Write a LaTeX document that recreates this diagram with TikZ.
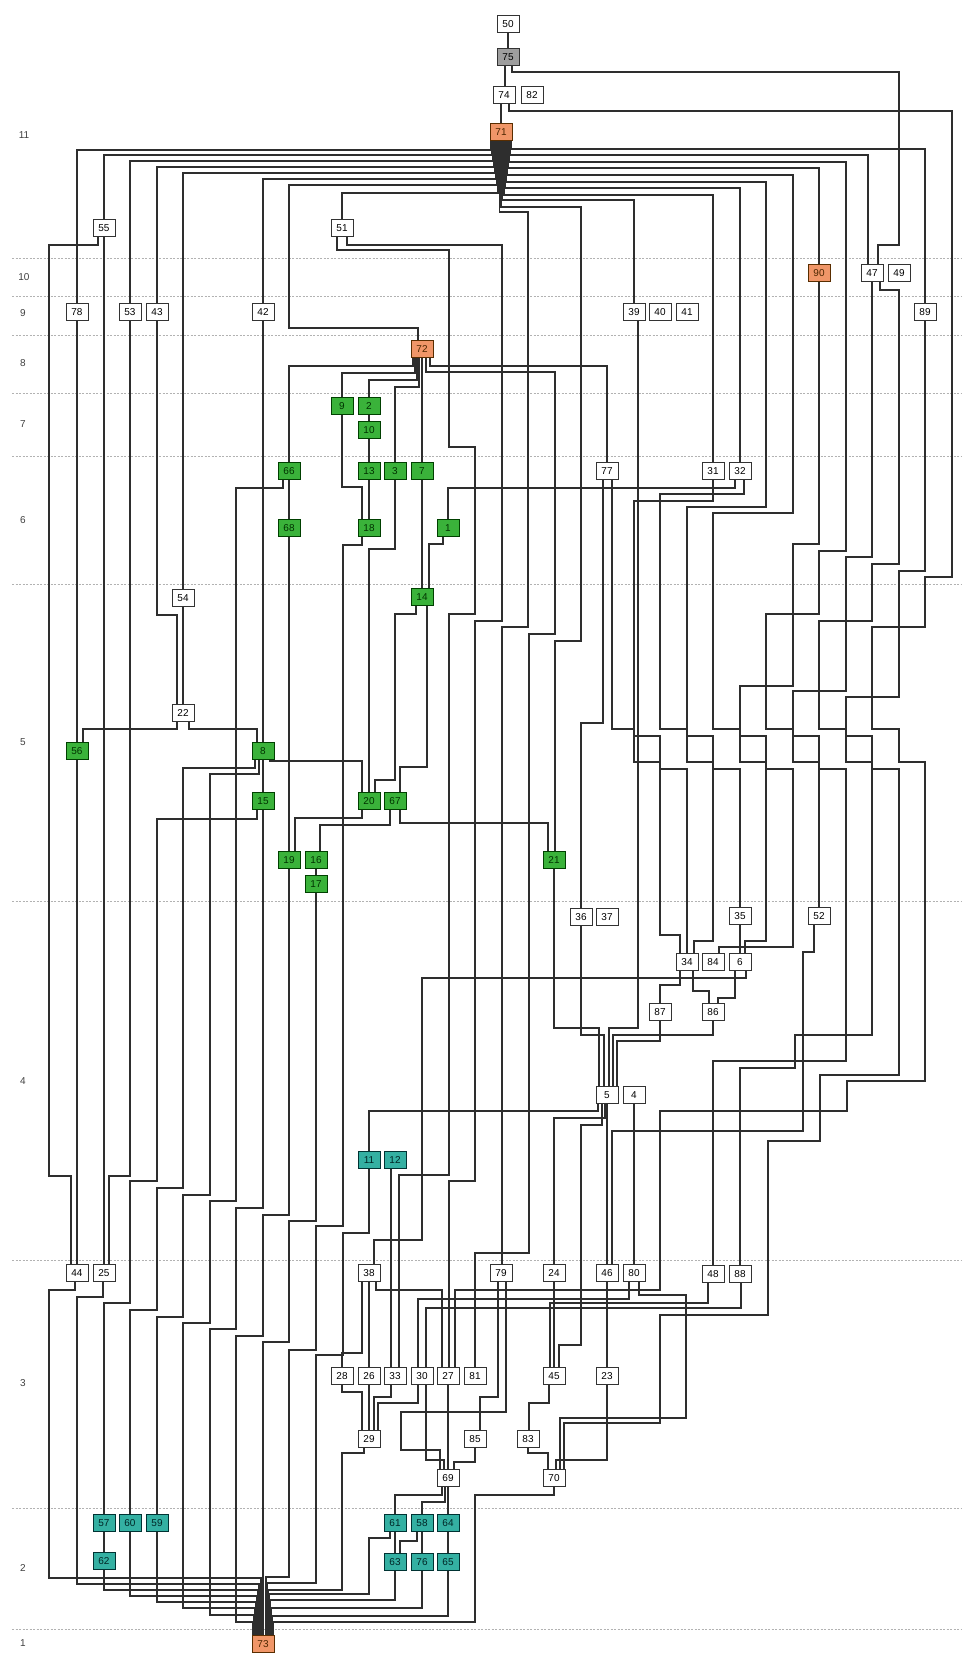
\documentclass[tikz,border=0pt]{standalone}
\usepackage{fontspec}
\usetikzlibrary{backgrounds}
\newfontfamily\labfont{Liberation Sans}
\definecolor{ngreen}{RGB}{58,178,58}
\definecolor{nteal}{RGB}{52,176,162}
\definecolor{norange}{RGB}{240,150,104}
\begin{document}
\begin{tikzpicture}[x=1pt,y=-1pt,
  wire/.style={line width=1.05pt,draw=black!82},
  bx/.style={draw=black!80,line width=1pt,fill=white,minimum width=22pt,minimum height=17pt,inner sep=0pt,font=\labfont\fontsize{10}{10}\selectfont},
  gb/.style={bx,fill=ngreen,draw=green!25!black,text=green!20!black},
  tb/.style={bx,fill=nteal,draw=teal!40!black,text=teal!30!black},
  ob/.style={bx,fill=norange,draw=orange!35!black,text=orange!30!black},
  yb/.style={bx,fill=black!38},
  eq/.style={line width=0.5pt,double distance=1.6pt,draw=black!80},
  lay/.style={dash pattern=on 2pt off 1.5pt,draw=black!30,line width=0.6pt},
  lab/.style={font=\labfont\fontsize{10}{10}\selectfont,text=black!75}]
\useasboundingbox (0,0) rectangle (965,1654);
\node[lab] at (24,135) {11};
\node[lab] at (24,277) {10};
\node[lab] at (23,313) {9};
\node[lab] at (23,363) {8};
\node[lab] at (23,424) {7};
\node[lab] at (23,520) {6};
\node[lab] at (23,742) {5};
\node[lab] at (23,1081) {4};
\node[lab] at (23,1383) {3};
\node[lab] at (23,1568) {2};
\node[lab] at (23,1643) {1};
% ---------------- nodes ----------------
\node[bx] (n50) at (508,24) {50};
\node[yb] (n75) at (508,57) {75};
\node[bx] (n74) at (504,95) {74};
\node[bx] (n82) at (532,95) {82};
\node[ob] (n71) at (501,132) {71};
\node[bx] (n55) at (104,228) {55};
\node[bx] (n51) at (342,228) {51};
\node[ob] (n90) at (819,273) {90};
\node[bx] (n47) at (872,273) {47};
\node[bx] (n49) at (899,273) {49};
\node[bx] (n78) at (77,312) {78};
\node[bx] (n53) at (130,312) {53};
\node[bx] (n43) at (157,312) {43};
\node[bx] (n42) at (263,312) {42};
\node[bx] (n39) at (634,312) {39};
\node[bx] (n40) at (660,312) {40};
\node[bx] (n41) at (687,312) {41};
\node[bx] (n89) at (925,312) {89};
\node[ob] (n72) at (422,349) {72};
\node[gb] (g7a) at (342,406) {9};
\node[gb] (g7b) at (369,406) {2};
\node[gb] (g7c) at (369,430) {10};
\node[gb] (g6a) at (289,471) {66};
\node[gb] (g6b) at (369,471) {13};
\node[gb] (g6c) at (395,471) {3};
\node[gb] (g6d) at (422,471) {7};
\node[bx] (n77) at (607,471) {77};
\node[bx] (n31) at (713,471) {31};
\node[bx] (n32) at (740,471) {32};
\node[gb] (g6e) at (289,528) {68};
\node[gb] (g6f) at (369,528) {18};
\node[gb] (g6g) at (448,528) {1};
\node[gb] (n14) at (422,597) {14};
\node[bx] (n54) at (183,598) {54};
\node[bx] (n22) at (183,713) {22};
\node[gb] (n56) at (77,751) {56};
\node[gb] (n8) at (263,751) {8};
\node[gb] (g5a) at (263,801) {15};
\node[gb] (g5b) at (369,801) {20};
\node[gb] (g5c) at (395,801) {67};
\node[gb] (n19) at (289,860) {19};
\node[gb] (n16) at (316,860) {16};
\node[gb] (n17) at (316,884) {17};
\node[gb] (n21) at (554,860) {21};
\node[bx] (n36) at (581,917) {36};
\node[bx] (n37) at (607,917) {37};
\node[bx] (n35) at (740,916) {35};
\node[bx] (n52) at (819,916) {52};
\node[bx] (n34) at (687,962) {34};
\node[bx] (n84) at (713,962) {84};
\node[bx] (n6) at (740,962) {6};
\node[bx] (n87) at (660,1012) {87};
\node[bx] (n86) at (713,1012) {86};
\node[bx] (n5) at (607,1095) {5};
\node[bx] (n4) at (634,1095) {4};
\node[tb] (n11) at (369,1160) {11};
\node[tb] (n12) at (395,1160) {12};
\node[bx] (n44) at (77,1273) {44};
\node[bx] (n25) at (104,1273) {25};
\node[bx] (n38) at (369,1273) {38};
\node[bx] (n79) at (501,1273) {79};
\node[bx] (n24) at (554,1273) {24};
\node[bx] (n46) at (607,1273) {46};
\node[bx] (n80) at (634,1273) {80};
\node[bx] (n48) at (713,1274) {48};
\node[bx] (n88) at (740,1274) {88};
\node[bx] (n28) at (342,1376) {28};
\node[bx] (n26) at (369,1376) {26};
\node[bx] (n33) at (395,1376) {33};
\node[bx] (n30) at (422,1376) {30};
\node[bx] (n27) at (448,1376) {27};
\node[bx] (n81) at (475,1376) {81};
\node[bx] (n45) at (554,1376) {45};
\node[bx] (n23) at (607,1376) {23};
\node[bx] (n29) at (369,1439) {29};
\node[bx] (n85) at (475,1439) {85};
\node[bx] (n83) at (528,1439) {83};
\node[bx] (n69) at (448,1478) {69};
\node[bx] (n70) at (554,1478) {70};
\node[tb] (n57) at (104,1523) {57};
\node[tb] (n60) at (130,1523) {60};
\node[tb] (n59) at (157,1523) {59};
\node[tb] (n62) at (104,1561) {62};
\node[tb] (n61) at (395,1523) {61};
\node[tb] (n58) at (422,1523) {58};
\node[tb] (n64) at (448,1523) {64};
\node[tb] (n63) at (395,1562) {63};
\node[tb] (n76) at (422,1562) {76};
\node[tb] (n65) at (448,1562) {65};
\node[ob] (n73) at (263,1644) {73};
% ---------------- wires (behind nodes) ----------------
\begin{scope}[on background layer]
\fill[white] (0,0) rectangle (965,1654);
\foreach \yy in {258,296,335,393,456,584,901,1260,1508,1629} \draw[lay] (12,\yy) -- (962,\yy);
% top chain
\draw[wire] (n50) -- (n75);
\draw[wire] (n75.south -| 505,0) -- (505,0 |- n74.north);
\draw[wire] (n74.south -| 501,0) -- (501,0 |- n71.north);
\draw[eq] (n74.east) -- (n82.west);
\draw[wire] (n75.south -| 512,0) -- (512,72) -- (899,72) -- (899,245) -- (878,245) -- (878,0 |- n47.north);
% fan from 71 (left)
\draw[wire] (n71.south -| 491,0) -- (491,150) -- (77,150) -- (77,0 |- n78.north);
\draw[wire] (n71.south -| 492,0) -- (492,155) -- (104,155) -- (104,0 |- n55.north);
\draw[wire] (n71.south -| 493,0) -- (493,161) -- (130,161) -- (130,0 |- n53.north);
\draw[wire] (n71.south -| 494,0) -- (494,167) -- (157,167) -- (157,0 |- n43.north);
\draw[wire] (n71.south -| 495,0) -- (495,173) -- (183,173) -- (183,0 |- n54.north);
\draw[wire] (n71.south -| 496,0) -- (496,179) -- (263,179) -- (263,0 |- n42.north);
\draw[wire] (n71.south -| 497,0) -- (497,185) -- (289,185) -- (289,328) -- (418,328) -- (418,0 |- n72.north);
\draw[wire] (n71.south -| 498,0) -- (498,193) -- (342,193) -- (342,0 |- n51.north);
% fan from 71 (down-right)
\draw[wire] (n71.south -| 502.5,0) -- (502.5,200) -- (634,200) -- (634,0 |- n39.north);
\draw[wire] (n71.south -| 501,0) -- (501,207) -- (581,207) -- (581,641) -- (555,641) -- (555,0 |- n21.north);
\draw[wire] (n71.south -| 499.5,0) -- (499.5,212) -- (528,212) -- (528,627) -- (502,627) -- (502,0 |- n79.north);
% fan from 71 (right)
\draw[wire] (n71.south -| 511,0) -- (511,149) -- (925,149) -- (925,0 |- n89.north);
\draw[wire] (n71.south -| 510,0) -- (510,155) -- (868,155) -- (868,0 |- n47.north);
\draw[wire] (n71.south -| 508,0) -- (508,168) -- (819,168) -- (819,0 |- n90.north);
\draw[wire] (n71.south -| 505,0) -- (505,188) -- (740,188) -- (740,0 |- n32.north);
\draw[wire] (n71.south -| 504,0) -- (504,195) -- (713,195) -- (713,0 |- n31.north);
% right bus J0..J10
\draw[wire] (n77.south -| 612,0) -- (612,729) -- (634,729) -- (634,762) -- (660,762) -- (660,935) -- (680,935) -- (680,0 |- n34.north);
\draw[wire] (n31.south -| 713,0) -- (713,501) -- (634,501) -- (634,736) -- (660,736) -- (660,769) -- (687,769) -- (687,0 |- n34.north);
\draw[wire] (n32.south -| 744,0) -- (744,494) -- (660,494) -- (660,729) -- (687,729) -- (687,762) -- (713,762) -- (713,941) -- (694,941) -- (694,0 |- n34.north);
\draw[wire] (n71.south -| 506,0) -- (506,182) -- (766,182) -- (766,507) -- (687,507) -- (687,736) -- (713,736) -- (713,769) -- (740,769) -- (740,0 |- n35.north);
\draw[wire] (n71.south -| 507,0) -- (507,175) -- (793,175) -- (793,513) -- (713,513) -- (713,729) -- (740,729) -- (740,762) -- (766,762) -- (766,941) -- (745,941) -- (745,0 |- n6.north);
\draw[wire] (n90.south -| 819,0) -- (819,544) -- (793,544) -- (793,686) -- (740,686) -- (740,736) -- (766,736) -- (766,769) -- (793,769) -- (793,947) -- (719,947) -- (719,0 |- n84.north);
\draw[wire] (n71.south -| 509,0) -- (509,162) -- (846,162) -- (846,551) -- (819,551) -- (819,614) -- (766,614) -- (766,729) -- (793,729) -- (793,762) -- (819,762) -- (819,0 |- n52.north);
\draw[wire] (n47.south -| 872,0) -- (872,557) -- (846,557) -- (846,691) -- (793,691) -- (793,736) -- (819,736) -- (819,769) -- (846,769) -- (846,1061) -- (713,1061) -- (713,0 |- n48.north);
\draw[wire] (n47.south -| 880,0) -- (880,290) -- (899,290) -- (899,564) -- (872,564) -- (872,621) -- (819,621) -- (819,729) -- (846,729) -- (846,762) -- (872,762) -- (872,1035) -- (795,1035) -- (795,1068) -- (740,1068) -- (740,0 |- n88.north);
\draw[wire] (n89.south -| 925,0) -- (925,571) -- (899,571) -- (899,697) -- (846,697) -- (846,736) -- (872,736) -- (872,769) -- (899,769) -- (899,1075) -- (820,1075) -- (820,1141) -- (768,1141) -- (768,1315) -- (660,1315) -- (660,1423) -- (564,1423) -- (564,0 |- n70.north);
\draw[wire] (n74.south -| 509,0) -- (509,111) -- (952,111) -- (952,577) -- (925,577) -- (925,627) -- (872,627) -- (872,729) -- (899,729) -- (899,762) -- (925,762) -- (925,1081) -- (847,1081) -- (847,1111) -- (660,1111) -- (660,1290) -- (455,1290) -- (455,0 |- n27.north);
% groups
\draw[eq] (n47.east) -- (n49.west);
\draw[eq] (n39.east) -- (n40.west);
\draw[eq] (n40.east) -- (n41.west);
\draw[eq] (n36.east) -- (n37.west);
\draw[eq] (n34.east) -- (n84.west);
\draw[eq] (n5.east) -- (n4.west);
\draw[eq] (n11.east) -- (n12.west);
\draw[eq] (n27.east) -- (n81.west);
% 72 fan
\draw[wire] (n72.south -| 413,0) -- (413,366) -- (289,366) -- (289,0 |- g6a.north);
\draw[wire] (n72.south -| 415,0) -- (415,373) -- (342,373) -- (342,0 |- g7a.north);
\draw[wire] (n72.south -| 417,0) -- (417,380) -- (369,380) -- (369,0 |- g7b.north);
\draw[wire] (n72.south -| 419,0) -- (419,387) -- (395,387) -- (395,0 |- g6c.north);
\draw[wire] (n72.south -| 422,0) -- (422,0 |- g6d.north);
\draw[wire] (n72.south -| 426,0) -- (426,372) -- (555,372) -- (555,634) -- (529,634) -- (529,1253) -- (475,1253) -- (475,0 |- n81.north);
\draw[wire] (n72.south -| 430,0) -- (430,366) -- (607,366) -- (607,0 |- n77.north);
% 51
\draw[wire] (n51.south -| 337,0) -- (337,250) -- (449,250) -- (449,447) -- (475,447) -- (475,614) -- (449,614) -- (449,1175) -- (399,1175) -- (399,0 |- n33.north);
\draw[wire] (n51.south -| 347,0) -- (347,245) -- (502,245) -- (502,621) -- (475,621) -- (475,1181) -- (449,1181) -- (449,0 |- n27.north);
% green cluster
\draw[wire] (g7b) -- (g7c);
\draw[wire] (g7c) -- (g6b);
\draw[wire] (g6b) -- (g6f);
\draw[wire] (g7a.south -| 342,0) -- (342,487) -- (362,487) -- (362,0 |- g6f.north);
\draw[wire] (g6c.south -| 395,0) -- (395,549) -- (369,549) -- (369,0 |- g5b.north);
\draw[wire] (g6d) -- (n14);
\draw[wire] (g6g.south -| 443,0) -- (443,544) -- (429,544) -- (429,0 |- n14.north);
\draw[wire] (n32.south -| 735,0) -- (735,488) -- (448,488) -- (448,0 |- g6g.north);
\draw[wire] (n14.south -| 416,0) -- (416,614) -- (395,614) -- (395,780) -- (375,780) -- (375,0 |- g5b.north);
\draw[wire] (n14.south -| 427,0) -- (427,767) -- (400,767) -- (400,0 |- g5c.north);
\draw[wire] (g6a) -- (g6e);
\draw[wire] (g6e) -- (n19);
\draw[wire] (g5b.south -| 362,0) -- (362,818) -- (295,818) -- (295,0 |- n19.north);
\draw[wire] (g5c.south -| 390,0) -- (390,825) -- (320,825) -- (320,0 |- n16.north);
\draw[wire] (g5c.south -| 400,0) -- (400,823) -- (548,823) -- (548,0 |- n21.north);
\draw[wire] (n16) -- (n17);
\draw[wire] (n42) -- (n8);
\draw[wire] (n8) -- (g5a);
\draw[wire] (n8.south -| 270,0) -- (270,761) -- (362,761) -- (362,0 |- g5b.north);
% left column
\draw[wire] (n78) -- (n56);
\draw[wire] (n56) -- (n44);
\draw[wire] (n55) -- (n25);
\draw[wire] (n54) -- (n22);
\draw[wire] (n55.south -| 98,0) -- (98,245) -- (49,245) -- (49,1176) -- (71,1176) -- (71,0 |- n44.north);
\draw[wire] (n53.south -| 130,0) -- (130,1176) -- (109,1176) -- (109,0 |- n25.north);
\draw[wire] (n43.south -| 157,0) -- (157,615) -- (177,615) -- (177,0 |- n22.north);
\draw[wire] (n22.south -| 177,0) -- (177,729) -- (83,729) -- (83,0 |- n56.north);
\draw[wire] (n22.south -| 189,0) -- (189,729) -- (257,729) -- (257,0 |- n8.north);
\draw[wire] (g5a.south -| 257,0) -- (257,819) -- (157,819) -- (157,1181) -- (130,1181) -- (130,1303) -- (104,1303) -- (104,0 |- n57.north);
\draw[wire] (n8.south -| 255,0) -- (255,768) -- (183,768) -- (183,1188) -- (157,1188) -- (157,1310) -- (130,1310) -- (130,0 |- n60.north);
\draw[wire] (n8.south -| 259,0) -- (259,774) -- (210,774) -- (210,1195) -- (183,1195) -- (183,1317) -- (157,1317) -- (157,0 |- n59.north);
\draw[wire] (g6a.south -| 283,0) -- (283,488) -- (236,488) -- (236,1201) -- (210,1201) -- (210,1323) -- (183,1323) -- (183,1608) -- (255,1608) -- (255,0 |- n73.north);
\draw[wire] (g5a.south -| 263,0) -- (263,1208) -- (236,1208) -- (236,1329) -- (210,1329) -- (210,1615) -- (254,1615) -- (254,0 |- n73.north);
\draw[wire] (n19.south -| 289,0) -- (289,1215) -- (263,1215) -- (263,1336) -- (236,1336) -- (236,1622) -- (253,1622) -- (253,0 |- n73.north);
\draw[wire] (n17.south -| 316,0) -- (316,1221) -- (289,1221) -- (289,1342) -- (263,1342) -- (263,0 |- n73.north);
\draw[wire] (g6f.south -| 362,0) -- (362,545) -- (343,545) -- (343,1226) -- (316,1226) -- (316,1350) -- (289,1350) -- (289,1577) -- (266,1577) -- (266,0 |- n73.north);
\draw[wire] (n11.south -| 369,0) -- (369,1233) -- (343,1233) -- (343,1355) -- (316,1355) -- (316,1583) -- (267,1583) -- (267,0 |- n73.north);
\draw[wire] (n44.south -| 75,0) -- (75,1290) -- (49,1290) -- (49,1578) -- (261,1578) -- (261,0 |- n73.north);
\draw[wire] (n25.south -| 103,0) -- (103,1297) -- (77,1297) -- (77,1584) -- (259,1584) -- (259,0 |- n73.north);
\draw[wire] (n57) -- (n62);
\draw[wire] (n62.south -| 104,0) -- (104,1590) -- (258,1590) -- (258,0 |- n73.north);
\draw[wire] (n60.south -| 130,0) -- (130,1596) -- (257,1596) -- (257,0 |- n73.north);
\draw[wire] (n59.south -| 157,0) -- (157,1602) -- (256,1602) -- (256,0 |- n73.north);
% 34 / 6 cluster
\draw[wire] (n35) -- (n6);
\draw[wire] (n52.south -| 814,0) -- (814,952) -- (803,952) -- (803,1131) -- (612,1131) -- (612,0 |- n46.north);
\draw[wire] (n34.south -| 680,0) -- (680,985) -- (660,985) -- (660,0 |- n87.north);
\draw[wire] (n34.south -| 693,0) -- (693,991) -- (709,991) -- (709,0 |- n86.north);
\draw[wire] (n6.south -| 735,0) -- (735,998) -- (718,998) -- (718,0 |- n86.north);
\draw[wire] (n6.south -| 746,0) -- (746,978) -- (422,978) -- (422,1240) -- (374,1240) -- (374,0 |- n38.north);
\draw[wire] (n87.south -| 660,0) -- (660,1041) -- (617,1041) -- (617,0 |- n5.north);
\draw[wire] (n86.south -| 713,0) -- (713,1035) -- (613,1035) -- (613,0 |- n5.north);
\draw[wire] (n21.south -| 554,0) -- (554,1028) -- (599,1028) -- (599,0 |- n5.north);
\draw[wire] (n36.south -| 581,0) -- (581,1035) -- (604,1035) -- (604,0 |- n5.north);
\draw[wire] (n77.south -| 603,0) -- (603,723) -- (581,723) -- (581,0 |- n36.north);
\draw[wire] (n39.south -| 638,0) -- (638,1028) -- (609,1028) -- (609,0 |- n5.north);
% 5 / 4
\draw[wire] (n5.south -| 598,0) -- (598,1111) -- (369,1111) -- (369,0 |- n11.north);
\draw[wire] (n5.south -| 605,0) -- (605,1118) -- (554,1118) -- (554,0 |- n24.north);
\draw[wire] (n5.south -| 602,0) -- (602,1125) -- (581,1125) -- (581,1345) -- (559,1345) -- (559,0 |- n45.north);
\draw[wire] (n5) -- (n46);
\draw[wire] (n4) -- (n80);
\draw[wire] (n12.south -| 391,0) -- (391,0 |- n33.north);
% row 3
\draw[wire] (n80.south -| 629,0) -- (629,1299) -- (418,1299) -- (418,0 |- n30.north);
\draw[wire] (n80.south -| 639,0) -- (639,1295) -- (686,1295) -- (686,1418) -- (560,1418) -- (560,0 |- n70.north);
\draw[wire] (n88.south -| 741,0) -- (741,1308) -- (426,1308) -- (426,0 |- n30.north);
\draw[wire] (n48.south -| 708,0) -- (708,1303) -- (550,1303) -- (550,0 |- n45.north);
\draw[wire] (n24) -- (n45);
\draw[wire] (n46) -- (n23);
\draw[wire] (n45.south -| 549,0) -- (549,1403) -- (529,1403) -- (529,0 |- n83.north);
\draw[wire] (n83.south -| 528,0) -- (528,1453) -- (548,1453) -- (548,0 |- n70.north);
\draw[wire] (n23.south -| 607,0) -- (607,1460) -- (556,1460) -- (556,0 |- n70.north);
\draw[wire] (n70.south -| 554,0) -- (554,1495) -- (475,1495) -- (475,1622) -- (273,1622) -- (273,0 |- n73.north);
\draw[wire] (n38.south -| 362,0) -- (362,1353) -- (342,1353) -- (342,0 |- n28.north);
\draw[wire] (n38) -- (n26);
\draw[wire] (n38.south -| 376,0) -- (376,1290) -- (442,1290) -- (442,0 |- n27.north);
\draw[wire] (n26) -- (n29);
\draw[wire] (n28.south -| 342,0) -- (342,1392) -- (362,1392) -- (362,0 |- n29.north);
\draw[wire] (n33.south -| 391,0) -- (391,1397) -- (374,1397) -- (374,0 |- n29.north);
\draw[wire] (n30.south -| 418,0) -- (418,1403) -- (378,1403) -- (378,0 |- n29.north);
\draw[wire] (n30.south -| 426,0) -- (426,1460) -- (444,1460) -- (444,0 |- n69.north);
\draw[wire] (n29.south -| 364,0) -- (364,1453) -- (342,1453) -- (342,1590) -- (268,1590) -- (268,0 |- n73.north);
\draw[wire] (n27) -- (n69);
\draw[wire] (n79.south -| 498,0) -- (498,1397) -- (480,1397) -- (480,0 |- n85.north);
\draw[wire] (n79.south -| 506,0) -- (506,1412) -- (401,1412) -- (401,1450) -- (440,1450) -- (440,0 |- n69.north);
\draw[wire] (n85.south -| 475,0) -- (475,1462) -- (454,1462) -- (454,0 |- n69.north);
\draw[wire] (n69.south -| 442,0) -- (442,1495) -- (395,1495) -- (395,0 |- n61.north);
\draw[wire] (n69.south -| 445,0) -- (445,1502) -- (422,1502) -- (422,0 |- n58.north);
\draw[wire] (n69) -- (n64);
\draw[wire] (n61) -- (n63);
\draw[wire] (n58) -- (n76);
\draw[wire] (n64) -- (n65);
\draw[wire] (n58.south -| 417,0) -- (417,1541) -- (400,1541) -- (400,0 |- n63.north);
\draw[wire] (n61.south -| 390,0) -- (390,1538) -- (369,1538) -- (369,1594) -- (269,1594) -- (269,0 |- n73.north);
\draw[wire] (n63.south -| 395,0) -- (395,1600) -- (270,1600) -- (270,0 |- n73.north);
\draw[wire] (n76.south -| 422,0) -- (422,1608) -- (271,1608) -- (271,0 |- n73.north);
\draw[wire] (n65.south -| 448,0) -- (448,1616) -- (272,1616) -- (272,0 |- n73.north);
\end{scope}
\end{tikzpicture}
\end{document}
